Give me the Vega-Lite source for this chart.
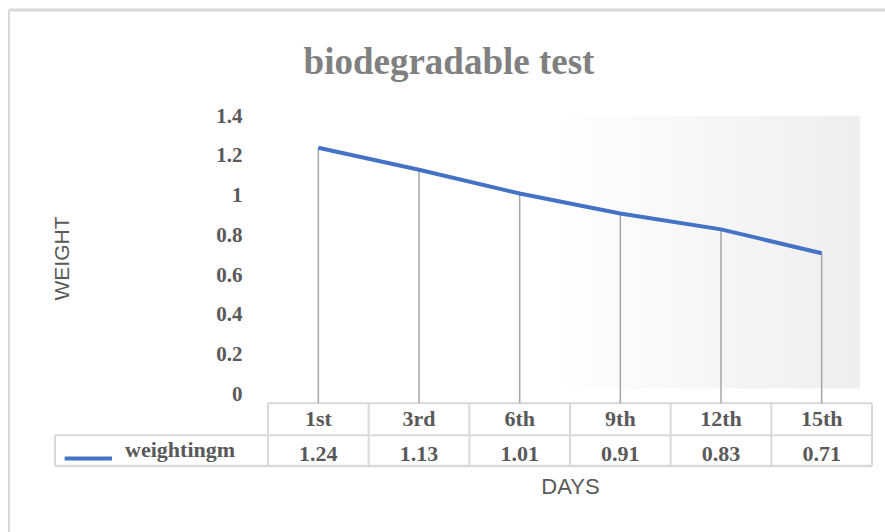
{
  "$schema": "https://vega.github.io/schema/vega-lite/v6.json",
  "width": 604,
  "height": 350,
  "autosize": {"type": "none"},
  "padding": {"left": 268, "top": 116, "right": 13, "bottom": 66},
  "background": "white",
  "title": {
    "text": "biodegradable test",
    "font": "Liberation Serif",
    "fontSize": 37,
    "fontWeight": "bold",
    "color": "#808080",
    "anchor": "middle",
    "frame": "group",
    "baseline": "alphabetic",
    "dx": -121,
    "dy": 102,
    "offset": 0
  },
  "config": {
    "view": {"stroke": null},
    "axisX": {
      "labels": false, "ticks": false, "domain": false, "grid": false,
      "titleFont": "Liberation Sans", "titleFontSize": 22, "titleFontWeight": "normal",
      "titleColor": "#595959", "titlePadding": 10
    },
    "axisY": {
      "grid": false, "domain": false, "ticks": false,
      "labelFont": "Liberation Serif", "labelFontSize": 21, "labelFontWeight": "bold",
      "labelColor": "#595959", "labelPadding": 26,
      "titleFont": "Liberation Sans", "titleFontSize": 21, "titleFontWeight": "normal",
      "titleColor": "#595959", "titlePadding": 143, "titleY": 142
    }
  },
  "data": {
    "values": [
      {"day": "1st", "weight": 1.24},
      {"day": "3rd", "weight": 1.13},
      {"day": "6th", "weight": 1.01},
      {"day": "9th", "weight": 0.91},
      {"day": "12th", "weight": 0.83},
      {"day": "15th", "weight": 0.71}
    ]
  },
  "resolve": {"scale": {"x": "independent"}},
  "layer": [
    {
      "data": {"values": [{}]},
      "layer": [
        {
          "mark": {"type": "rect", "fill": {"gradient": "linear", "x1": 0, "y1": 0, "x2": 1, "y2": 0, "stops": [{"offset": 0, "color": "#fefefe"}, {"offset": 1, "color": "#eeeeee"}]}},
          "encoding": {
            "x": {"datum": 2.95, "type": "quantitative", "scale": {"domain": [0, 6], "nice": false, "zero": false}, "axis": null},
            "x2": {"datum": 5.88},
            "y": {"datum": 1.4, "type": "quantitative", "scale": {"domain": [-0.36, 1.4], "nice": false, "zero": false}, "axis": {"values": [0, 0.2, 0.4, 0.6, 0.8, 1, 1.2, 1.4], "format": "~g", "title": "WEIGHT"}},
            "y2": {"datum": 0.03}
          }
        },
        {
          "mark": {"type": "rule", "color": "#d9d9d9", "strokeWidth": 2},
          "encoding": {"x": {"datum": 0, "type": "quantitative", "axis": null}, "x2": {"datum": 6}, "y": {"datum": -0.045, "type": "quantitative"}}
        },
        {
          "mark": {"type": "rule", "color": "#d9d9d9", "strokeWidth": 2},
          "encoding": {"x": {"datum": -2.116, "type": "quantitative", "axis": null}, "x2": {"datum": 6}, "y": {"datum": -0.205, "type": "quantitative"}}
        },
        {
          "mark": {"type": "rule", "color": "#d9d9d9", "strokeWidth": 2.5},
          "encoding": {"x": {"datum": -2.116, "type": "quantitative", "axis": null}, "x2": {"datum": 6}, "y": {"datum": -0.36, "type": "quantitative"}}
        },
        {
          "mark": {"type": "rule", "color": "#d9d9d9", "strokeWidth": 2},
          "encoding": {"x": {"datum": 6, "type": "quantitative", "axis": null}, "y": {"datum": -0.045, "type": "quantitative"}, "y2": {"datum": -0.36}}
        },
        {
          "mark": {"type": "rule", "color": "#d9d9d9", "strokeWidth": 2},
          "encoding": {"x": {"datum": -2.116, "type": "quantitative", "axis": null}, "y": {"datum": -0.205, "type": "quantitative"}, "y2": {"datum": -0.36}}
        },
        {
          "mark": {"type": "rule", "color": "#4472c4", "strokeWidth": 4},
          "encoding": {"x": {"datum": -2.02, "type": "quantitative", "axis": null}, "x2": {"datum": -1.55}, "y": {"datum": -0.322, "type": "quantitative"}}
        },
        {
          "mark": {"type": "text", "text": "weightingm", "align": "left", "baseline": "middle", "font": "Liberation Serif", "fontSize": 22, "fontWeight": "bold", "color": "#595959"},
          "encoding": {"x": {"datum": -1.42, "type": "quantitative", "axis": null}, "y": {"datum": -0.282, "type": "quantitative"}}
        },
        {
          "mark": {"type": "rule", "color": "#d9d9d9", "strokeWidth": 3},
          "encoding": {"x": {"datum": -2.573, "type": "quantitative", "axis": null}, "x2": {"datum": 6.14}, "y": {"datum": 1.933, "type": "quantitative"}}
        },
        {
          "mark": {"type": "rule", "color": "#d9d9d9", "strokeWidth": 2},
          "encoding": {"x": {"datum": -2.573, "type": "quantitative", "axis": null}, "y": {"datum": 1.933, "type": "quantitative"}, "y2": {"datum": -0.7}}
        }
      ]
    },
    {
      "layer": [
        {
          "mark": {"type": "rule", "color": "#d9d9d9", "strokeWidth": 2},
          "encoding": {
            "x": {"field": "day", "type": "ordinal", "sort": null, "bandPosition": 0, "title": "DAYS", "scale": {"type": "band", "paddingInner": 0, "paddingOuter": 0}},
            "y": {"datum": -0.045, "type": "quantitative"},
            "y2": {"datum": -0.36}
          }
        },
        {
          "mark": {"type": "rule", "color": "#a6a6a6", "strokeWidth": 1.5},
          "encoding": {
            "x": {"field": "day", "type": "ordinal", "sort": null, "title": "DAYS"},
            "y": {"field": "weight", "type": "quantitative"},
            "y2": {"datum": -0.045}
          }
        },
        {
          "mark": {"type": "line", "color": "#4472c4", "strokeWidth": 4},
          "encoding": {
            "x": {"field": "day", "type": "ordinal", "sort": null, "title": "DAYS"},
            "y": {"field": "weight", "type": "quantitative"}
          }
        },
        {
          "mark": {"type": "text", "baseline": "middle", "font": "Liberation Serif", "fontSize": 22, "fontWeight": "bold", "color": "#595959"},
          "encoding": {
            "x": {"field": "day", "type": "ordinal", "sort": null, "title": "DAYS"},
            "y": {"datum": -0.125, "type": "quantitative"},
            "text": {"field": "day"}
          }
        },
        {
          "mark": {"type": "text", "baseline": "middle", "font": "Liberation Serif", "fontSize": 22, "fontWeight": "bold", "color": "#595959"},
          "encoding": {
            "x": {"field": "day", "type": "ordinal", "sort": null, "title": "DAYS"},
            "y": {"datum": -0.3, "type": "quantitative"},
            "text": {"field": "weight", "format": ".2f"}
          }
        }
      ]
    }
  ]
}
